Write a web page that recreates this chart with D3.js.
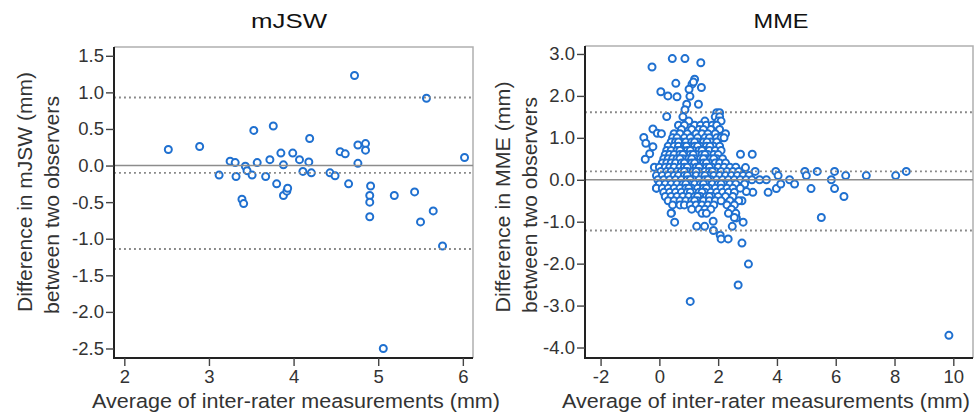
<!DOCTYPE html>
<html>
<head>
<meta charset="utf-8">
<script src="https://cdn.jsdelivr.net/npm/d3@7"></script>
<style>
    body { margin: 0; background: #fff; }
    svg { display: block; font-family: "Liberation Sans", Arial, sans-serif; }
</style>
</head>
<body>
<svg id="chart" width="977" height="417"></svg>
<script>
// mJSW: [average, difference] (mm)
var mjswPoints = [
    [2.52, 0.22], [2.89, 0.26], [3.12, -0.13], [3.25, 0.06], [3.31, 0.04], [3.32, -0.15],
    [3.39, -0.46], [3.41, -0.52], [3.43, -0.01], [3.45, -0.07], [3.51, -0.13], [3.53, 0.48],
    [3.57, 0.04], [3.67, -0.15], [3.72, 0.08], [3.76, 0.54], [3.80, -0.25], [3.85, 0.17],
    [3.88, 0.01], [3.88, -0.41], [3.92, -0.35], [3.93, -0.31], [3.99, 0.17], [4.07, 0.08],
    [4.11, -0.08], [4.18, 0.05], [4.19, 0.37], [4.21, -0.10], [4.43, -0.10], [4.49, -0.14],
    [4.55, 0.19], [4.61, 0.16], [4.65, -0.25], [4.72, 1.23], [4.76, 0.28], [4.76, 0.03],
    [4.85, 0.30], [4.85, 0.21], [4.91, -0.28], [4.90, -0.41], [4.90, -0.50], [4.90, -0.70],
    [5.06, -2.50], [5.19, -0.41], [5.43, -0.36], [5.50, -0.77], [5.57, 0.92], [5.65, -0.62],
    [5.76, -1.10], [6.02, 0.11]
];
var mjswLimits = [-1.14, -0.10, 0.93];
var mjswXTicks = [2, 3, 4, 5, 6];
var mjswYTicks = [-2.5, -2.0, -1.5, -1.0, -0.5, 0.0, 0.5, 1.0, 1.5];

// MME: scattered points outside the dense cluster [average, difference]
var mmeOuter = [
    [-0.25, 2.69], [0.44, 2.89], [0.87, 2.89], [1.41, 2.79], [0.56, 2.30], [0.05, 2.10],
    [0.29, 2.00], [0.60, 1.98], [0.25, 1.51], [1.33, 1.80], [1.20, 2.40], [1.11, 2.28],
    [1.43, 2.20], [1.04, 1.99], [1.01, 2.16], [0.93, 1.80], [0.87, 1.67], [1.16, 2.33],
    [-0.53, 1.01], [-0.46, 0.87], [-0.22, 1.21], [-0.07, 1.11], [0.07, 1.10], [-0.22, 0.79],
    [-0.33, 0.62], [-0.48, 0.49], [-0.17, 0.30], [-0.10, -0.20], [0.41, -0.79], [0.52, -1.01],
    [1.27, -1.11], [1.54, -1.11], [1.83, -0.99], [1.84, -1.21], [2.07, -1.32], [2.10, -1.41],
    [2.34, -1.41], [2.48, -1.11], [2.62, -0.91], [2.85, -1.01], [2.81, -1.51], [3.03, -2.01],
    [2.68, -2.51], [1.05, -2.90], [9.85, -3.71],
    [2.76, 0.61], [3.16, 0.61], [2.93, 0.29], [3.26, 0.20], [3.18, -0.30], [2.96, -0.28],
    [2.81, -0.50], [3.41, 0.00], [3.64, 0.00], [3.70, -0.30], [3.96, 0.20], [4.04, 0.10],
    [3.98, -0.21], [4.13, -0.10], [4.43, 0.00], [4.60, -0.10], [4.95, 0.20], [5.00, 0.10],
    [5.16, -0.21], [5.37, 0.20], [5.51, -0.90], [5.85, 0.00], [5.96, 0.20], [5.96, -0.21],
    [6.28, -0.40], [6.34, 0.10], [7.04, 0.10], [8.04, 0.10], [8.40, 0.20]
];
// MME: dense cluster, read row by row (difference -> averages)
var mmeClusterRows = [
    [1.6, [1.95, 2.05]],
    [1.5, [0.80, 1.90, 2.05]],
    [1.4, [1.00, 1.55, 2.00, 2.10]],
    [1.3, [0.65, 0.85, 1.20, 1.40, 1.60, 1.80, 1.95]],
    [1.2, [0.75, 1.10, 1.35, 1.50, 1.75, 2.05]],
    [1.1, [0.50, 0.70, 0.95, 1.25, 1.45, 1.65, 1.90, 2.25]],
    [1.0, [0.45, 0.60, 0.85, 1.05, 1.30, 1.55, 1.70, 1.95, 2.10, 2.20]],
    [0.9, [0.40, 0.55, 0.75, 0.90, 1.10, 1.30, 1.50, 1.75, 1.95, 0.65, 1.20, 1.62]],
    [0.8, [0.30, 0.50, 0.65, 0.85, 1.00, 1.20, 1.40, 1.60, 1.85, 2.05, 0.92, 1.30, 1.72]],
    [0.7, [0.25, 0.40, 0.60, 0.80, 0.95, 1.15, 1.35, 1.55, 1.70, 1.90, 2.10, 0.70, 1.05, 1.45]],
    [0.6, [0.20, 0.35, 0.50, 0.70, 0.90, 1.05, 1.25, 1.45, 1.65, 1.85, 2.00, 0.80, 1.15, 1.55]],
    [0.5, [0.15, 0.30, 0.45, 0.60, 0.80, 1.00, 1.20, 1.40, 1.60, 1.75, 1.95, 2.15, 0.70, 1.10, 1.50, 1.85]],
    [0.4, [0.10, 0.25, 0.40, 0.55, 0.75, 0.95, 1.10, 1.30, 1.50, 1.70, 1.90, 2.05, 2.25, 0.85, 1.20, 1.60]],
    [0.3, [0.00, 0.20, 0.35, 0.50, 0.70, 0.85, 1.05, 1.25, 1.45, 1.60, 1.80, 2.00, 2.20, 2.40, 2.60, 0.95, 1.35, 1.70]],
    [0.2, [0.05, 0.25, 0.40, 0.60, 0.75, 0.95, 1.15, 1.35, 1.55, 1.70, 1.90, 2.10, 2.30, 2.50, 2.70, 0.85, 1.25, 1.80]],
    [0.1, [-0.10, 0.10, 0.30, 0.50, 0.65, 0.85, 1.05, 1.25, 1.45, 1.65, 1.85, 2.05, 2.25, 2.45, 2.65, 2.85, 3.05, 0.95, 1.55]],
    [0.0, [-0.05, 0.15, 0.35, 0.55, 0.75, 0.95, 1.15, 1.35, 1.55, 1.75, 1.95, 2.15, 2.35, 2.55, 2.75, 2.95, 3.15, 1.05, 1.65]],
    [-0.1, [0.00, 0.20, 0.40, 0.60, 0.80, 1.00, 1.20, 1.40, 1.60, 1.80, 2.00, 2.20, 2.40, 2.60, 2.90, 0.90, 1.50, 2.10]],
    [-0.2, [-0.10, 0.10, 0.30, 0.50, 0.70, 0.90, 1.10, 1.30, 1.50, 1.70, 1.90, 2.10, 2.30, 2.50, 2.75, 1.00, 1.60]],
    [-0.3, [0.15, 0.35, 0.55, 0.75, 0.95, 1.15, 1.35, 1.55, 1.75, 1.95, 2.15, 2.35, 2.55, 1.05, 1.45]],
    [-0.4, [0.20, 0.40, 0.60, 0.80, 1.00, 1.20, 1.40, 1.60, 1.80, 2.00, 2.25, 2.50, 1.30, 1.70]],
    [-0.5, [0.30, 0.50, 0.70, 0.90, 1.10, 1.30, 1.50, 1.70, 1.90, 2.10, 2.40, 2.70, 1.20]],
    [-0.6, [0.45, 0.70, 0.85, 1.05, 1.25, 1.45, 1.65, 1.85, 2.30, 2.55]],
    [-0.7, [1.10, 1.35, 1.55, 1.75, 2.45]],
    [-0.8, [0.40, 1.45, 1.60, 2.35, 2.60]],
    [-0.9, [2.55]]
];
var mmeLimits = [-1.21, 0.20, 1.61];
var mmeXTicks = [-2, 0, 2, 4, 6, 8, 10];
var mmeYTicks = [-4.0, -3.0, -2.0, -1.0, 0.0, 1.0, 2.0, 3.0];

var mmePoints = mmeOuter.slice();
mmeClusterRows.forEach(function (row) {
    row[1].forEach(function (a) {
        mmePoints.push([a, row[0]]);
    });
});

var svg = d3.select("#chart");
var markColor = "#1f70d0";
var fmt1 = d3.format(".1f");

function addLabel(x, y, text, size, width, fill) {
    return svg.append("text")
        .attr("x", x).attr("y", y)
        .attr("text-anchor", "middle")
        .attr("fill", fill || "#333")
        .attr("textLength", width)
        .attr("lengthAdjust", "spacingAndGlyphs")
        .style("font-size", size + "px")
        .text(text);
}

function drawPanel(p) {
    var x = d3.scaleLinear().domain(p.xDomain).range([p.left, p.right]),
        y = d3.scaleLinear().domain(p.yDomain).range([p.bottom, p.top]),
        g = svg.append("g"), xAxis, yAxis;

    // top and right frame
    g.append("path")
        .attr("d", "M" + p.left + "," + p.top + "H" + p.right + "V" + p.bottom)
        .attr("fill", "none")
        .attr("stroke", "#b0b0b0")
        .attr("stroke-width", 1.5);

    g.selectAll("circle.pt").data(p.points).enter().append("circle")
        .attr("class", "pt")
        .attr("cx", function (d) { return x(d[0]); })
        .attr("cy", function (d) { return y(d[1]); })
        .attr("r", 3.5)
        .attr("fill", "#fff")
        .attr("stroke", markColor)
        .attr("stroke-width", 2);

    g.append("line")
        .attr("x1", p.left).attr("x2", p.right)
        .attr("y1", y(0)).attr("y2", y(0))
        .attr("stroke", "#8c8c8c")
        .attr("stroke-width", 1.6);

    g.selectAll("line.lim").data(p.limits).enter().append("line")
        .attr("class", "lim")
        .attr("x1", p.left).attr("x2", p.right)
        .attr("y1", function (d) { return y(d); })
        .attr("y2", function (d) { return y(d); })
        .attr("stroke", "#888")
        .attr("stroke-width", 1.9)
        .attr("stroke-dasharray", "1.9,3.1");

    xAxis = g.append("g")
        .attr("transform", "translate(0," + p.bottom + ")")
        .call(d3.axisBottom(x).tickValues(p.xTicks)
            .tickFormat(function (d) { return String(d); })
            .tickSize(8).tickPadding(4).tickSizeOuter(0));
    yAxis = g.append("g")
        .attr("transform", "translate(" + p.left + ",0)")
        .call(d3.axisLeft(y).tickValues(p.yTicks)
            .tickFormat(function (d) { return fmt1(d).replace("\u2212", "-"); })
            .tickSize(8).tickPadding(2).tickSizeOuter(0));

    [xAxis, yAxis].forEach(function (ax) {
        ax.select(".domain").attr("stroke", "#222").attr("stroke-width", 2);
        ax.selectAll(".tick line").attr("stroke", "#444").attr("stroke-width", 1.4);
        ax.selectAll(".tick text")
            .attr("fill", "#333")
            .style("font-size", "18.5px")
            .style("font-family", "Liberation Sans, Arial, sans-serif");
    });
    xAxis.select(".domain").attr("d", "M" + (p.left - 1) + ",0H" + p.right);
    yAxis.select(".domain").attr("d", "M0," + p.top + "V" + (p.bottom + 1));

    addLabel(p.titleX, 28, p.title, 21, p.titleWidth, "#111");
    addLabel(p.xLabelX, 408, "Average of inter-rater measurements (mm)", 20.5, 408);

    p.yLabels.forEach(function (lab) {
        addLabel(0, 0, lab.text, 20.5, lab.width)
            .attr("transform", "translate(" + lab.x + "," + lab.y + ") rotate(-90)");
    });
}

drawPanel({
    title: "mJSW", titleX: 289, titleWidth: 76,
    left: 114, right: 473, top: 47, bottom: 358,
    xDomain: [1.878, 6.12], yDomain: [-2.63, 1.62],
    xTicks: mjswXTicks, yTicks: mjswYTicks,
    points: mjswPoints, limits: mjswLimits,
    xLabelX: 296,
    yLabels: [
        {x: 32, y: 192, text: "Difference in mJSW (mm)", width: 240},
        {x: 59, y: 205, text: "between two observers", width: 218}
    ]
});

drawPanel({
    title: "MME", titleX: 781, titleWidth: 55,
    left: 585, right: 973, top: 46, bottom: 358,
    xDomain: [-2.53, 10.67], yDomain: [-4.25, 3.19],
    xTicks: mmeXTicks, yTicks: mmeYTicks,
    points: mmePoints, limits: mmeLimits,
    xLabelX: 766,
    yLabels: [
        {x: 510, y: 197, text: "Difference in MME (mm)", width: 231},
        {x: 537, y: 205, text: "between two observers", width: 216}
    ]
});
</script>
</body>
</html>
